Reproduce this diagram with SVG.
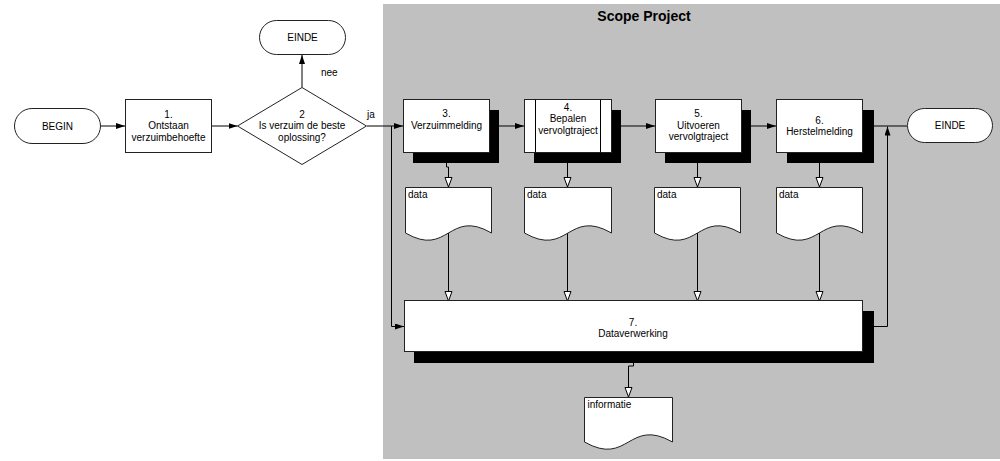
<svg xmlns="http://www.w3.org/2000/svg" width="1000" height="461" viewBox="0 0 1000 461">
<style>
text{font-family:"Liberation Sans",Arial,sans-serif;font-size:10px;fill:#000}
.c{text-anchor:middle}
.box{fill:#fff;stroke:#222;stroke-width:1}
.sh{fill:#000}
.ln{fill:none;stroke:#000;stroke-width:1}
.title{font-size:14px;font-weight:bold}
</style>
<defs>
<marker id="fa" viewBox="0 0 9 6" refX="9" refY="3" markerWidth="9" markerHeight="6" markerUnits="userSpaceOnUse" orient="auto">
<path d="M0,0 L9,3 L0,6 z" fill="#000"/>
</marker>
<marker id="oa" viewBox="-1 -1 11 9" refX="9.5" refY="3.5" markerWidth="11" markerHeight="9" markerUnits="userSpaceOnUse" orient="auto">
<path d="M0,0 L9.5,3.5 L0,7 z" fill="#fff" stroke="#000" stroke-width="1"/>
</marker>
</defs>

<rect x="383" y="4" width="617" height="455" fill="#c0c0c0"/>
<text class="c title" x="644" y="21">Scope Project</text>

<g id="connectors">
<path class="ln" d="M101,126 H125" marker-end="url(#fa)"/>
<path class="ln" d="M212,126 H237.5" marker-end="url(#fa)"/>
<path class="ln" d="M302,87.5 V55" marker-end="url(#fa)"/>
<path class="ln" d="M367,126 H403" marker-end="url(#fa)"/>
<path class="ln" d="M391.5,126 V326.5 H404" marker-end="url(#fa)"/>
<path class="ln" d="M499,126 H524" marker-end="url(#fa)"/>
<path class="ln" d="M621,126 H655" marker-end="url(#fa)"/>
<path class="ln" d="M751,126 H776" marker-end="url(#fa)"/>
<path class="ln" d="M874,126 H907"/>
<path class="ln" d="M874,326.5 H887.5 V126.5" marker-end="url(#fa)"/>
<path class="ln" d="M446.5,163 V167 H448.5 V187" marker-end="url(#oa)"/>
<path class="ln" d="M567.5,163 V187" marker-end="url(#oa)"/>
<path class="ln" d="M697.5,163 V187" marker-end="url(#oa)"/>
<path class="ln" d="M819.5,163 V187" marker-end="url(#oa)"/>
<path class="ln" d="M448.5,233 V301" marker-end="url(#oa)"/>
<path class="ln" d="M567.5,233 V301" marker-end="url(#oa)"/>
<path class="ln" d="M697.5,233 V301" marker-end="url(#oa)"/>
<path class="ln" d="M819.5,233 V301" marker-end="url(#oa)"/>
<path class="ln" d="M633.5,363 V366 H628.5 V397" marker-end="url(#oa)"/>
<text x="321" y="76">nee</text>
<text x="367" y="118">ja</text>
</g>

<g id="begin">
<rect class="box" x="14.5" y="108.5" width="86" height="35" rx="17.5"/>
<text class="c" x="57.5" y="129.5">BEGIN</text>
</g>

<g id="step1">
<rect class="box" x="125.5" y="99.5" width="86" height="53"/>
<text class="c" x="168.5" y="117.5">1.</text>
<text class="c" x="168.5" y="129">Ontstaan</text>
<text class="c" x="168.5" y="140.5">verzuimbehoefte</text>
</g>

<g id="decision2">
<path class="box" d="M302,87.5 L366.5,126 L302,164.5 L237.5,126 Z"/>
<text class="c" x="302" y="117.5">2</text>
<text class="c" x="302" y="129">Is verzuim de beste</text>
<text class="c" x="302" y="140.5">oplossing?</text>
</g>

<g id="einde-top">
<rect class="box" x="259.5" y="20.5" width="86" height="34" rx="17"/>
<text class="c" x="302.5" y="41">EINDE</text>
</g>

<g id="step3">
<rect class="sh" x="413" y="110" width="86" height="53"/>
<rect class="box" x="403.5" y="99.5" width="86" height="53"/>
<text class="c" x="446.5" y="117">3.</text>
<text class="c" x="446.5" y="129">Verzuimmelding</text>
</g>

<g id="step4">
<rect class="sh" x="534" y="110" width="87" height="53"/>
<rect class="box" x="524.5" y="99.5" width="87" height="53"/>
<path class="ln" d="M535.5,99.5 V152.5 M600.5,99.5 V152.5" stroke="#222"/>
<text class="c" x="568" y="110.5">4.</text>
<text class="c" x="568" y="122">Bepalen</text>
<text class="c" x="568" y="133.5">vervolgtraject</text>
</g>

<g id="step5">
<rect class="sh" x="665" y="110" width="86" height="53"/>
<rect class="box" x="655.5" y="99.5" width="86" height="53"/>
<text class="c" x="698.5" y="117">5.</text>
<text class="c" x="698.5" y="128.5">Uitvoeren</text>
<text class="c" x="698.5" y="140">vervolgtraject</text>
</g>

<g id="step6">
<rect class="sh" x="787" y="110" width="87" height="53"/>
<rect class="box" x="776.5" y="99.5" width="86" height="53"/>
<text class="c" x="819.5" y="123.5">6.</text>
<text class="c" x="819.5" y="135">Herstelmelding</text>
</g>

<g id="einde-right">
<rect class="box" x="907.5" y="108.5" width="85" height="34" rx="17"/>
<text class="c" x="950" y="129">EINDE</text>
</g>

<g id="data1">
<path class="box" d="M405.5,187.5 H491.5 V233 C448.5,208 448.5,258 405.5,233 Z"/>
<text x="408" y="198">data</text>
</g>
<g id="data2">
<path class="box" d="M524.5,187.5 H611.5 V233 C568,208 568,258 524.5,233 Z"/>
<text x="527" y="198">data</text>
</g>
<g id="data3">
<path class="box" d="M654.5,187.5 H740.5 V233 C697.5,208 697.5,258 654.5,233 Z"/>
<text x="657" y="198">data</text>
</g>
<g id="data4">
<path class="box" d="M776.5,187.5 H862.5 V233 C819.5,208 819.5,258 776.5,233 Z"/>
<text x="779" y="198">data</text>
</g>

<g id="step7">
<rect class="sh" x="414" y="311" width="460" height="52"/>
<rect class="box" x="404.5" y="300.5" width="458" height="51"/>
<text class="c" x="633" y="325.5">7.</text>
<text class="c" x="633" y="336.5">Dataverwerking</text>
</g>

<g id="informatie">
<path class="box" d="M584.5,397.5 H672.5 V442 C628.5,417 628.5,467 584.5,442 Z"/>
<text x="587.5" y="408">informatie</text>
</g>
</svg>
